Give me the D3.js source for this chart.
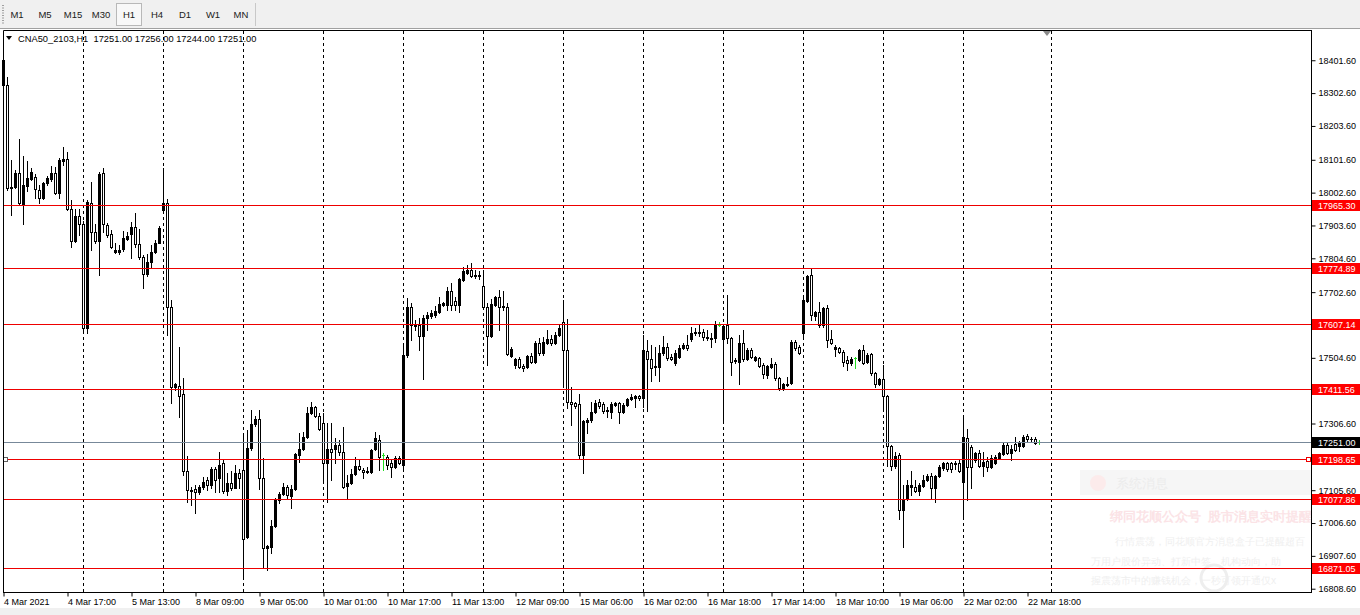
<!DOCTYPE html>
<html>
<head>
<meta charset="utf-8">
<script src="https://cdn.jsdelivr.net/npm/d3@7/dist/d3.min.js"></script>
<style>
  html, body { margin: 0; padding: 0; background: #ffffff; }
  svg { display: block; }
  text { font-family: "Liberation Sans", Arial, sans-serif; }
</style>
</head>
<body>
<svg id="chart" width="1360" height="615"></svg>
<script>
// ---------------- DATA ----------------
const symbolTitle = "CNA50_2103,H1";
const lastOHLC = [17251.00, 17256.00, 17244.00, 17251.00];
const timeframes = ["M1", "M5", "M15", "M30", "H1", "H4", "D1", "W1", "MN"];
const activeTimeframe = "H1";

const open = [18402,18327,18016,18019,18061,17968,18022,18043,18049,18010,17986,18031,18043,18061,18001,18098,18104,17953,17856,17932,
17908,17594,17971,17883,17856,18061,17905,17877,17823,17823,17832,17862,17877,17899,17847,17808,17757,17793,17823,17850,
17950,17971,17657,17416,17419,17395,17163,17106,17109,17100,17115,17136,17121,17169,17142,17187,17103,17127,17112,17157,
17166,16964,17232,17305,17320,17142,16931,16934,16997,17076,17094,17115,17088,17109,17211,17229,17265,17338,17356,17329,
17308,17187,17229,17229,17241,17220,17118,17127,17154,17178,17166,17160,17160,17229,17256,17211,17205,17187,17175,17202,
17181,17513,17657,17603,17603,17570,17624,17630,17633,17642,17663,17663,17705,17675,17663,17738,17759,17768,17750,17750,
17720,17657,17570,17663,17687,17657,17657,17510,17483,17501,17480,17477,17510,17492,17549,17519,17549,17561,17549,17573,
17612,17528,17371,17368,17365,17211,17311,17317,17341,17371,17365,17344,17341,17362,17368,17341,17362,17380,17383,17389,
17383,17525,17501,17480,17477,17519,17537,17507,17489,17507,17534,17543,17561,17579,17579,17582,17564,17561,17564,17603,
17561,17603,17564,17498,17492,17549,17501,17528,17498,17504,17483,17453,17477,17486,17444,17413,17422,17428,17552,17537,
17579,17675,17753,17630,17642,17603,17654,17561,17531,17534,17522,17498,17489,17504,17498,17528,17492,17516,17459,17425,
17440,17389,17238,17178,17211,17045,17079,17115,17115,17103,17118,17136,17148,17112,17148,17172,17187,17187,17184,17187,
17130,17262,17235,17196,17217,17178,17193,17175,17187,17202,17214,17241,17217,17244,17238,17238,17268,17260,17259,17251];

const high = [18408,18351,18101,18070,18164,18113,18098,18077,18058,18025,18034,18052,18083,18080,18107,18140,18125,17980,17953,17953,
17917,17980,18034,17908,18064,18077,17911,17889,17850,17844,17886,17883,17914,17941,17892,17814,17817,17844,17859,17902,
18077,17983,17678,17428,17537,17443,17208,17115,17121,17121,17145,17145,17175,17175,17220,17196,17157,17163,17181,17169,
17277,17286,17347,17329,17347,17202,16940,17015,17082,17100,17127,17121,17121,17217,17277,17280,17356,17371,17359,17338,
17338,17308,17308,17262,17256,17295,17151,17169,17205,17196,17172,17175,17229,17280,17271,17217,17211,17199,17208,17208,
17549,17685,17671,17618,17624,17633,17642,17648,17660,17687,17672,17717,17729,17687,17744,17777,17783,17789,17768,17765,
17768,17669,17681,17690,17708,17705,17669,17537,17504,17507,17486,17513,17519,17555,17564,17567,17588,17573,17582,17603,
17679,17621,17416,17371,17395,17317,17323,17371,17377,17380,17371,17356,17371,17371,17371,17368,17383,17395,17392,17392,
17573,17558,17543,17537,17543,17570,17549,17516,17528,17543,17549,17573,17597,17594,17603,17591,17588,17579,17615,17612,
17603,17693,17567,17504,17573,17588,17534,17534,17510,17507,17489,17483,17504,17492,17447,17428,17447,17558,17558,17543,
17687,17753,17771,17645,17672,17657,17663,17588,17543,17537,17528,17510,17507,17507,17531,17543,17519,17519,17462,17443,
17483,17392,17241,17220,17217,17121,17136,17163,17136,17127,17151,17154,17157,17151,17181,17190,17190,17190,17193,17196,
17332,17290,17241,17220,17226,17220,17205,17211,17211,17220,17247,17247,17241,17265,17253,17271,17274,17265,17265,17256];

const low = [18236,18010,17935,18016,17968,17908,18007,18040,17986,17971,17983,18025,18037,17998,17986,18086,17950,17838,17853,17874,
17579,17579,17829,17850,17754,17883,17868,17835,17820,17817,17826,17859,17805,17838,17802,17715,17751,17779,17820,17850,
17944,17573,17368,17407,17326,17151,17069,17060,17036,17094,17109,17106,17112,17100,17100,17097,17091,17106,17112,17112,
16840,16961,17226,17299,17109,16871,16865,16916,16994,17067,17091,17082,17051,17106,17190,17226,17262,17335,17326,17287,
17127,17069,17136,17187,17211,17112,17079,17124,17151,17166,17142,17157,17157,17226,17166,17166,17169,17145,17172,17184,
17166,17507,17558,17588,17529,17440,17588,17624,17627,17639,17660,17648,17648,17648,17642,17735,17756,17747,17744,17741,
17654,17484,17567,17660,17588,17648,17513,17507,17474,17474,17465,17474,17489,17489,17513,17513,17546,17543,17546,17570,
17416,17353,17302,17353,17202,17157,17277,17311,17338,17353,17338,17326,17323,17359,17308,17338,17359,17377,17356,17377,
17356,17344,17435,17453,17435,17513,17498,17498,17483,17504,17531,17528,17555,17573,17570,17558,17558,17537,17552,17600,
17308,17549,17453,17489,17425,17495,17498,17504,17495,17477,17444,17444,17474,17438,17407,17407,17419,17425,17528,17516,
17564,17672,17618,17618,17597,17597,17537,17546,17510,17519,17480,17468,17483,17474,17495,17486,17489,17453,17416,17422,
17347,17178,17166,17172,17018,16933,17076,17091,17100,17091,17115,17133,17079,17069,17145,17166,17163,17160,17169,17160,
17021,17076,17112,17190,17175,17148,17163,17172,17184,17199,17211,17214,17196,17223,17223,17235,17253,17253,17244,17244];

const close = [18327,18016,18019,18061,17971,18025,18046,18064,18013,17986,18031,18046,18061,18001,18101,18104,17953,17856,17932,17908,
17594,17974,17883,17856,18058,17908,17874,17838,17829,17829,17865,17871,17899,17847,17808,17757,17793,17823,17850,17896,
17971,17657,17416,17425,17389,17163,17106,17103,17100,17115,17130,17121,17169,17136,17181,17103,17127,17112,17157,17142,
16958,17232,17305,17320,17142,16931,16937,16997,17076,17094,17115,17091,17109,17214,17229,17265,17338,17356,17329,17290,
17187,17229,17220,17241,17220,17115,17127,17154,17178,17169,17160,17163,17226,17262,17205,17211,17181,17175,17202,17187,
17513,17657,17603,17600,17570,17624,17633,17639,17645,17666,17669,17705,17663,17663,17741,17765,17768,17750,17753,17753,
17657,17570,17666,17687,17657,17660,17516,17531,17501,17477,17474,17510,17492,17549,17519,17552,17561,17549,17573,17594,
17528,17371,17365,17359,17211,17314,17317,17341,17368,17359,17344,17347,17365,17368,17341,17362,17380,17386,17389,17383,
17528,17501,17474,17477,17519,17537,17504,17501,17519,17534,17543,17534,17579,17582,17582,17567,17567,17564,17603,17603,
17600,17564,17492,17495,17549,17501,17528,17507,17507,17480,17456,17480,17486,17444,17413,17425,17425,17552,17534,17519,
17679,17750,17633,17642,17603,17654,17558,17549,17537,17522,17492,17489,17501,17504,17528,17489,17513,17459,17425,17440,
17389,17238,17178,17208,17045,17076,17121,17121,17103,17121,17136,17148,17112,17148,17175,17187,17169,17169,17187,17163,
17265,17175,17175,17217,17178,17190,17175,17202,17205,17217,17241,17217,17229,17226,17247,17265,17259,17259,17247,17251];

// time axis labels (bar index -> label)
const timeTickIndex = [0,16,32,48,64,80,96,112,128,144,160,176,192,208,224,240,256];
const timeTickLabels = ["4 Mar 2021","4 Mar 17:00","5 Mar 13:00","8 Mar 09:00","9 Mar 05:00","10 Mar 01:00","10 Mar 17:00",
  "11 Mar 13:00","12 Mar 09:00","15 Mar 06:00","16 Mar 02:00","16 Mar 18:00","17 Mar 14:00","18 Mar 10:00","19 Mar 06:00",
  "22 Mar 02:00","22 Mar 18:00"];
// vertical grid (bar index)
const gridIndex = [20,40,60,80,100,120,140,160,180,200,220,240,262];
// price axis ticks
const priceTicks = [18401.60,18302.60,18203.60,18101.60,18002.60,17903.60,17804.60,17702.60,17603.60,17504.60,17403.60,
  17306.60,17204.60,17105.60,17006.60,16907.60,16808.60];
// horizontal level lines
const levelPrices = [17965.30,17774.89,17607.14,17411.56,17198.65,17077.86,16871.05];
const currentPrice = 17251.00;
const selectedLevel = 17198.65;

// popup overlay texts
const popupTitle = "系统消息";
const popupHeadline = "绑同花顺公众号  股市消息实时提醒";
const popupLines = ["行情震荡，同花顺官方消息盒子已提醒超百", "万用户股价异动、打新中签、机构动向，助", "握震荡市中的赚钱机会，一秒可领开通仅x"];

// ---------------- LAYOUT ----------------
const W = 1360, H = 615;
const P = {left: 3, right: 1311, top: 30, bottom: 592};
const svg = d3.select("#chart");

const x = d3.scaleLinear().domain([0, 259]).range([3, 1039]);
const y = d3.scaleLinear().domain([16798.7, 18492.83]).range([P.bottom, P.top]);
const fmt = d3.format(".2f");
const FONT = 9;

// backgrounds
svg.append("rect").attr("x",0).attr("y",0).attr("width",W).attr("height",H).attr("fill","#ffffff");
// toolbar
const tb = svg.append("g");
tb.append("rect").attr("x",0).attr("y",0).attr("width",W).attr("height",28).attr("fill","#f0f0f0");
tb.append("line").attr("x1",0).attr("x2",W).attr("y1",28.5).attr("y2",28.5).attr("stroke","#a0a0a0");
for (let k = 0; k < 8; k++) {
  tb.append("rect").attr("x",2).attr("y",5 + k*2.5).attr("width",2).attr("height",1).attr("fill","#a0a0a0");
}
const tfX = d3.scalePoint().domain(timeframes).range([17, 241]);
timeframes.forEach(tf => {
  if (tf === activeTimeframe) {
    tb.append("rect").attr("x", tfX(tf) - 12.5).attr("y", 3.5).attr("width", 25).attr("height", 22)
      .attr("fill", "#f8f8f8").attr("stroke", "#b8b8b8");
  }
  tb.append("text").attr("x", tfX(tf)).attr("y", 18).attr("text-anchor","middle")
    .attr("font-size", 9.5).attr("fill","#202020").text(tf);
});
tb.append("line").attr("x1",255.5).attr("x2",255.5).attr("y1",3).attr("y2",26).attr("stroke","#c8c8c8");
// bottom strip
svg.append("rect").attr("x",0).attr("y",608).attr("width",W).attr("height",7).attr("fill","#f0f0f0");

// faint popup overlay (notification window)
const pop = svg.append("g").attr("font-family", "'Noto Sans CJK SC', sans-serif");
pop.append("rect").attr("x", 1080).attr("y", 470).attr("width", 231).attr("height", 25).attr("fill", "#f6f6f6");
pop.append("circle").attr("cx", 1098).attr("cy", 483).attr("r", 8).attr("fill", "#fcebeb");
pop.append("text").attr("x", 1116).attr("y", 488).attr("font-size", 13).attr("fill", "#ececec").text(popupTitle);
pop.append("text").attr("x", 1110).attr("y", 521).attr("font-size", 12.5).attr("font-weight", "bold").attr("fill", "#fbe3e6")
  .attr("xml:space", "preserve").text(popupHeadline);
const popX = [1115, 1091, 1091], popY = [545, 565, 584];
popupLines.forEach((t, i) => {
  pop.append("text").attr("x", popX[i]).attr("y", popY[i]).attr("font-size", 10.4).attr("fill", "#efefef").text(t);
});
// faint watermark logo (graphic)
pop.append("circle").attr("cx", 1214).attr("cy", 578).attr("r", 13).attr("fill", "none").attr("stroke", "#eeeeee").attr("stroke-width", 3);

// vertical dashed grid
svg.append("g").selectAll("line").data(gridIndex).join("line")
  .attr("x1", d => Math.round(x(d)) + 0.5).attr("x2", d => Math.round(x(d)) + 0.5)
  .attr("y1", P.top + 1).attr("y2", P.bottom)
  .attr("stroke", "#000").attr("stroke-width", 1).attr("stroke-dasharray", "3,3");

// candles
const candles = svg.append("g").attr("shape-rendering","crispEdges");
open.forEach((o, i) => {
  const h = high[i], l = low[i], c = close[i];
  const cx = Math.round(x(i));
  const yO = Math.round(y(o)), yC = Math.round(y(c)), yH = Math.round(y(h)), yL = Math.round(y(l));
  const doji = (o === c);
  const col = doji ? "#22dd22" : "#000000";
  candles.append("rect").attr("x", cx).attr("y", yH).attr("width", 1).attr("height", yL - yH + 1).attr("fill", col);
  const top = Math.min(yO, yC), bot = Math.max(yO, yC);
  if (top === bot) {
    candles.append("rect").attr("x", cx - 1).attr("y", top).attr("width", 3).attr("height", 1).attr("fill", col);
  } else {
    candles.append("rect").attr("x", cx - 1).attr("y", top).attr("width", 3).attr("height", bot - top + 1).attr("fill", "#000");
    if (c < o && bot - top > 1) {
      candles.append("rect").attr("x", cx).attr("y", top + 1).attr("width", 1).attr("height", bot - top - 1).attr("fill", "#fff");
    }
  }
});

// current bid line
svg.append("line").attr("x1", P.left).attr("x2", P.right)
  .attr("y1", Math.round(y(currentPrice)) + 0.5).attr("y2", Math.round(y(currentPrice)) + 0.5)
  .attr("stroke", "#778899");

// level lines
svg.append("g").selectAll("line").data(levelPrices).join("line")
  .attr("x1", P.left).attr("x2", P.right)
  .attr("y1", d => Math.round(y(d)) + 0.5).attr("y2", d => Math.round(y(d)) + 0.5)
  .attr("stroke", "#ee0000");

// selection handle (left) of the selected level
const ySel = Math.round(y(selectedLevel));
svg.append("rect").attr("x", 3.5).attr("y", ySel - 2 + 0.5).attr("width", 4).attr("height", 4)
  .attr("fill", "#fff").attr("stroke", "#606060");

// plot frame
svg.append("path")
  .attr("d", `M${P.left + 0.5},${P.bottom + 0.5} V${P.top + 0.5} H${P.right + 0.5}`)
  .attr("fill", "none").attr("stroke", "#000");

// chart shift marker
svg.append("path").attr("d", "M1043,31 L1051,31 L1047,36 Z").attr("fill", "#8a8a8a");

// header
const hdr = svg.append("g");
hdr.append("path").attr("d", "M6,36 L12,36 L9,40 Z").attr("fill", "#000");
hdr.append("text").attr("x", 18).attr("y", 42).attr("font-size", 9.3).attr("fill", "#000")
  .attr("xml:space", "preserve")
  .text(symbolTitle + "  " + lastOHLC.map(fmt).join(" "));

// right price axis
const yAxis = d3.axisRight(y).tickValues(priceTicks).tickFormat(fmt).tickSize(4).tickPadding(3).tickSizeOuter(0);
const ya = svg.append("g").attr("transform", `translate(${P.right + 0.5},0)`).call(yAxis);
ya.select(".domain").attr("d", `M0,${P.top}V${P.bottom + 1}`).attr("stroke", "#000");
ya.selectAll(".tick line").attr("stroke", "#000");
ya.selectAll(".tick text").attr("font-size", FONT).attr("font-family", "Liberation Sans, Arial, sans-serif").attr("fill", "#000");

// bottom time axis
const xAxis = d3.axisBottom(x).tickValues(timeTickIndex).tickFormat((d, i) => timeTickLabels[i]).tickSize(4).tickPadding(2).tickSizeOuter(0);
const xa = svg.append("g").attr("transform", `translate(0.5,${P.bottom + 0.5})`).call(xAxis);
xa.select(".domain").attr("d", `M${P.left - 0.5},0H${P.right}`).attr("stroke", "#000");
xa.selectAll(".tick line").attr("stroke", "#000");
xa.selectAll(".tick text").attr("font-size", FONT).attr("font-family", "Liberation Sans, Arial, sans-serif")
  .attr("fill", "#000").attr("text-anchor", "start").attr("dx", 0);

// price tags
function tag(p, bg) {
  const yy = Math.round(y(p));
  const g = svg.append("g");
  g.append("rect").attr("x", P.right + 1).attr("y", yy - 5).attr("width", W - P.right - 1).attr("height", 11).attr("fill", bg);
  g.append("text").attr("x", P.right + 7).attr("y", yy + 4).attr("font-size", FONT).attr("fill", "#fff").text(fmt(p));
}
levelPrices.forEach(p => tag(p, "#ff0000"));
tag(currentPrice, "#000000");
// right selection handle on top
svg.append("rect").attr("x", 1306.5).attr("y", ySel - 2 + 0.5).attr("width", 4).attr("height", 4)
  .attr("fill", "#fff").attr("stroke", "#ee0000");
</script>
</body>
</html>
